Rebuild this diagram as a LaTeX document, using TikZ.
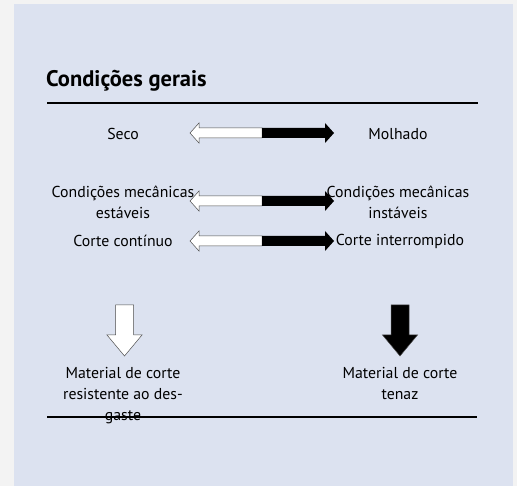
\documentclass[tikz,border=0pt]{standalone}
\usepackage{fontspec}
\setmainfont{PT Sans}
\usepackage{xcolor}
\usepackage{tikz}
\usetikzlibrary{calc}

\definecolor{fundo}{HTML}{F3F3F3}
\definecolor{painel}{HTML}{DCE2F0}

% double arrow: white half to the left, black half to the right
\newcommand{\duplaseta}[1]{%
  \filldraw[draw=black!70, line width=0.5pt, fill=white]
    (262,#1-5) -- (199,#1-5) -- (199,#1-10) -- (190,#1) -- (199,#1+10)
    -- (199,#1+5) -- (262,#1+5) -- cycle;
  \fill[black]
    (262,#1-5) -- (325,#1-5) -- (325,#1-10) -- (334,#1) -- (325,#1+10)
    -- (325,#1+5) -- (262,#1+5) -- cycle;}
% down arrow
\newcommand{\setabaixo}[2]{%
  \filldraw[draw=black!70, line width=0.5pt, fill=#2]
    (#1-9,305) -- (#1+9,305) -- (#1+9,335) -- (#1+17.5,335) -- (#1,356)
    -- (#1-17.5,335) -- (#1-9,335) -- cycle;}

\begin{document}
\begin{tikzpicture}[x=1pt, y=-1pt,
    txt/.style={align=center, font=\fontsize{15.8}{21}\selectfont, inner sep=0pt},
    regua/.style={line width=1.6pt}]
  \useasboundingbox (0,0) rectangle (517,486);
  \fill[fundo] (0,0) rectangle (517,486);
  \fill[painel] (14,4) rectangle (513,486);
  \node[anchor=base west, inner sep=0pt, font=\fontsize{22.5}{26}\selectfont\bfseries]
    (titulo) at (46,87) {Condições gerais};
  \draw[regua] (47,103) -- (478,103);
  % row 1
  \node[txt] (seco) at (123,134) {Seco};
  \node[txt] (molhado) at (398,134) {Molhado};
  \duplaseta{133}
  % row 2
  \node[txt] (mecest) at (123,202) {Condições mecânicas\\estáveis};
  \node[txt] (mecinst) at (398,202) {Condições mecânicas\\instáveis};
  \duplaseta{201}
  % row 3
  \node[txt] (continuo) at (123,241) {Corte contínuo};
  \node[txt] (interromp) at (400,241) {Corte interrompido};
  \duplaseta{241}
  % results
  \setabaixo{124.5}{white}
  \setabaixo{400}{black}
  \node[txt] (resist) at (123,396) {Material de corte\\resistente ao des-\\gaste};
  \node[txt] (tenaz) at (400,384) {Material de corte\\tenaz};
  \draw[regua] (47,417) -- (477,417);
\end{tikzpicture}
\end{document}
